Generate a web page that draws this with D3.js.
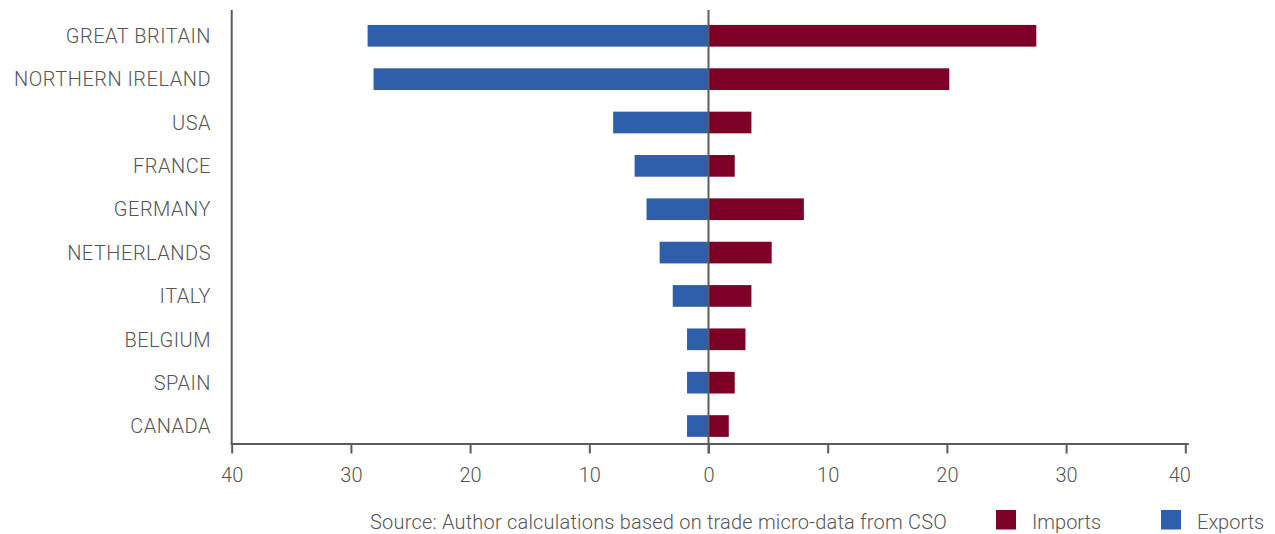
<!DOCTYPE html>
<html>
<head>
<meta charset="utf-8">
<script src="https://cdn.jsdelivr.net/npm/d3@7"></script>
<style>
  html, body { margin: 0; padding: 0; background: #ffffff; }
  svg { display: block; }
  text { font-family: Roboto, "Liberation Sans", Arial, sans-serif; font-weight: 300; fill: #555555; }
</style>
</head>
<body>
<svg id="chart" width="1275" height="534"></svg>
<script>
const categories = ["GREAT BRITAIN", "NORTHERN IRELAND", "USA", "FRANCE", "GERMANY", "NETHERLANDS", "ITALY", "BELGIUM", "SPAIN", "CANADA"];
const exportsValues = [28.6, 28.1, 8.0, 6.2, 5.2, 4.1, 3.0, 1.8, 1.8, 1.8];
const importsValues = [27.5, 20.2, 3.6, 2.2, 8.0, 5.3, 3.6, 3.1, 2.2, 1.7];
const xTicks = [-40, -30, -20, -10, 0, 10, 20, 30, 40];
const seriesNames = ["Imports", "Exports"];
const sourceText = "Source: Author calculations based on trade micro-data from CSO";

const colors = { Imports: "#7d0027", Exports: "#2f5faa" };
const axisColor = "#5c5c5c";

const svg = d3.select("#chart");

const x = d3.scaleLinear().domain([-40, 40]).range([231.7, 1185.3]);
const y = d3.scaleBand().domain(categories).range([14.1, 447.7]).paddingInner(0.5).paddingOuter(0.25);
const axisY = 444;

// Export bars (negative side)
svg.append("g").selectAll("rect")
  .data(categories.map((c, i) => ({ c, v: exportsValues[i] })))
  .join("rect")
  .attr("x", d => x(-d.v))
  .attr("y", d => y(d.c))
  .attr("width", d => x(0) - x(-d.v))
  .attr("height", y.bandwidth())
  .attr("fill", colors.Exports);

// Import bars (positive side)
svg.append("g").selectAll("rect")
  .data(categories.map((c, i) => ({ c, v: importsValues[i] })))
  .join("rect")
  .attr("x", x(0))
  .attr("y", d => y(d.c))
  .attr("width", d => x(d.v) - x(0))
  .attr("height", y.bandwidth())
  .attr("fill", colors.Imports);

// Zero line
svg.append("line")
  .attr("x1", x(0)).attr("x2", x(0))
  .attr("y1", 10).attr("y2", axisY + 9.5)
  .attr("stroke", axisColor).attr("stroke-width", 2);

// Left vertical axis line
svg.append("line")
  .attr("x1", x(-40)).attr("x2", x(-40))
  .attr("y1", 10).attr("y2", axisY)
  .attr("stroke", axisColor).attr("stroke-width", 2);

// Bottom axis
const xAxis = d3.axisBottom(x)
  .tickValues(xTicks)
  .tickSize(9.5)
  .tickSizeOuter(0)
  .tickPadding(14)
  .tickFormat(d => Math.abs(d));

const gx = svg.append("g")
  .attr("transform", `translate(0,${axisY})`)
  .call(xAxis);
gx.select(".domain").remove();
gx.append("line")
  .attr("x1", x(-40) - 1).attr("x2", x(40) + 3.5)
  .attr("y1", 0).attr("y2", 0)
  .attr("stroke", axisColor).attr("stroke-width", 2);
gx.selectAll(".tick line").attr("stroke", axisColor).attr("stroke-width", 2);
gx.selectAll(".tick text")
  .attr("fill", "#555555")
  .style("font-size", "20px")
  .style("font-family", 'Roboto, "Liberation Sans", Arial, sans-serif')
  .style("font-weight", 300);
gx.selectAll(".tick").filter(d => d === 40).select("text").attr("dx", -6);

// Category labels
svg.append("g").selectAll("text")
  .data(categories)
  .join("text")
  .attr("x", 211)
  .attr("y", d => y(d) + y.bandwidth() / 2)
  .attr("dy", "0.36em")
  .attr("text-anchor", "end")
  .style("font-size", "20px")
  .style("letter-spacing", "0.5px")
  .text(d => d);

// Source
svg.append("text")
  .attr("x", 370)
  .attr("y", 529)
  .style("font-size", "20px")
  .style("letter-spacing", "0.2px")
  .text(sourceText);

// Legend
const legendX = [996, 1161];
const legend = svg.append("g").selectAll("g")
  .data(seriesNames)
  .join("g")
  .attr("transform", (d, i) => `translate(${legendX[i]},510)`);
legend.append("rect")
  .attr("width", 20).attr("height", 19.5)
  .attr("fill", d => colors[d]);
legend.append("text")
  .attr("x", 36)
  .attr("y", 18.5)
  .style("font-size", "20px")
  .text(d => d);
</script>
</body>
</html>
